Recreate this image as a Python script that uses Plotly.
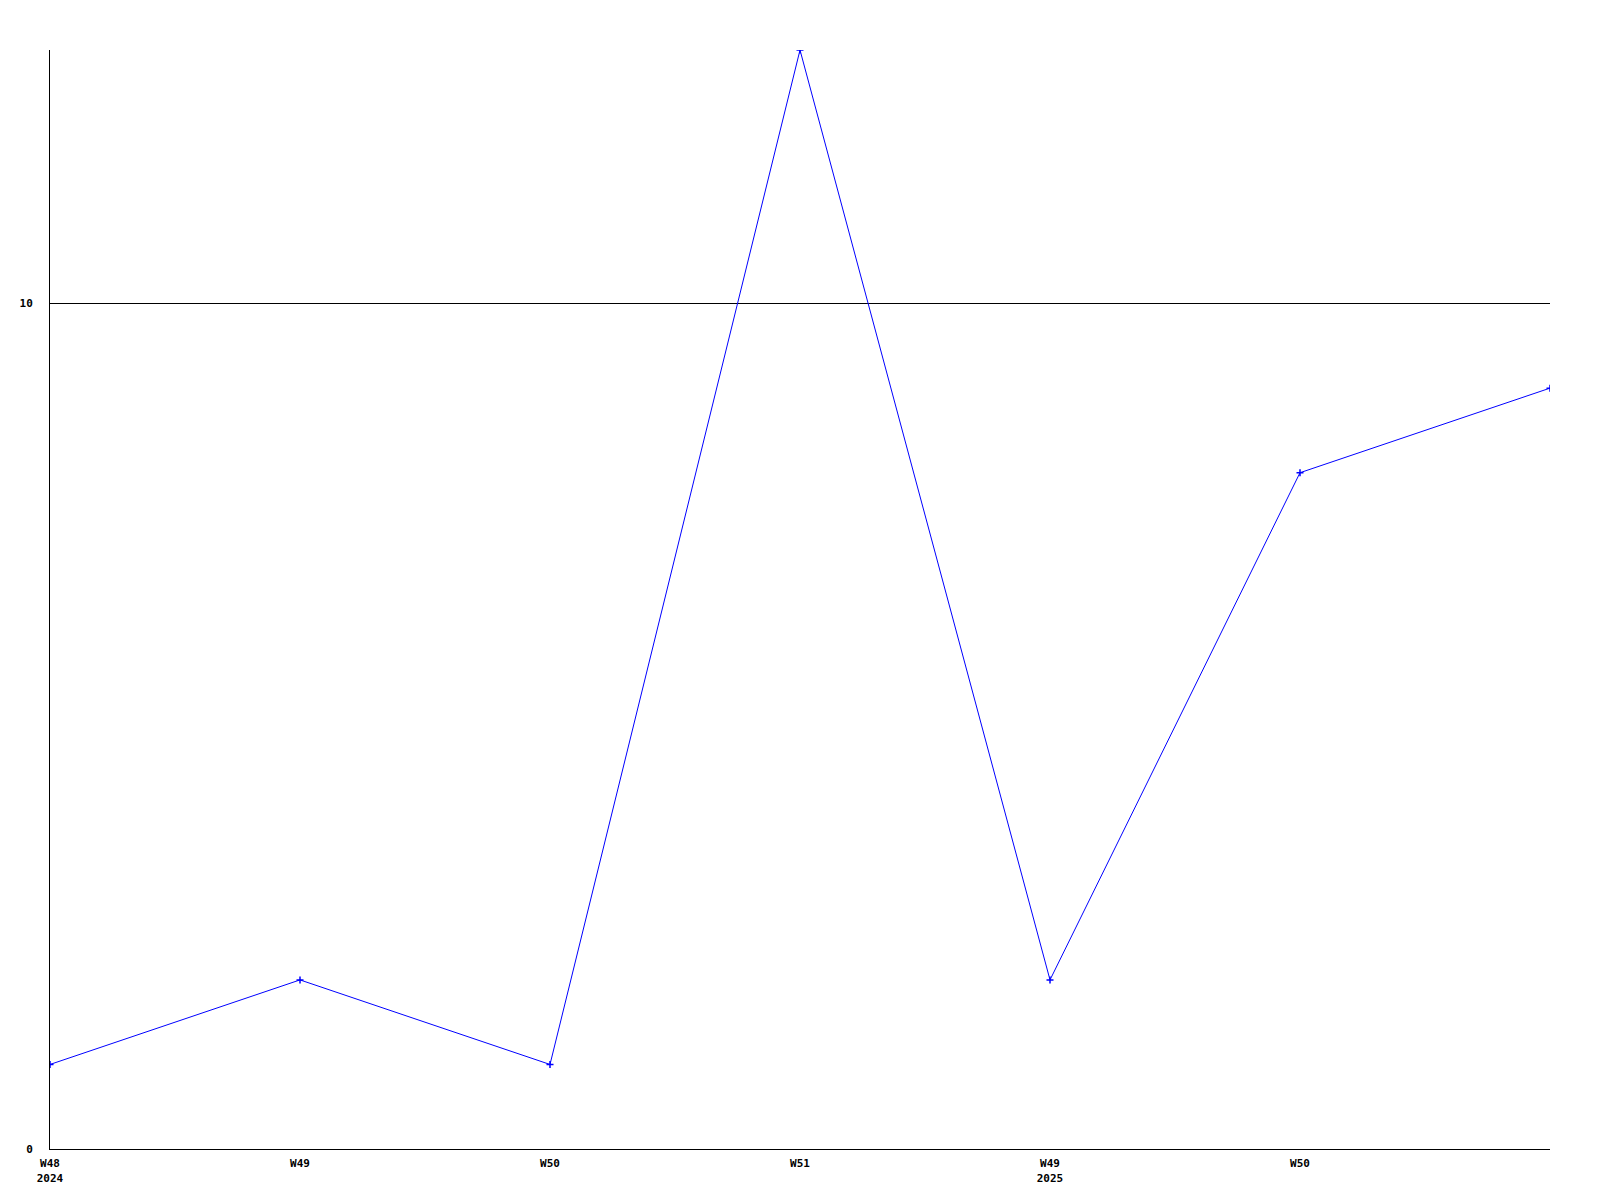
import plotly.graph_objects as go

weeks = ["W48<br>2024", "W49", "W50", "W51", "W49<br>2025", "W50", "W51"]
values = [1, 2, 1, 13, 2, 8, 9]
tick_labels = ["W48<br>2024", "W49", "W50", "W51", "W49<br>2025", "W50"]

idx = list(range(len(values)))

fig = go.Figure()
fig.add_trace(go.Scatter(
    x=idx, y=values, mode="lines+markers",
    line=dict(color="#0000ff", width=1),
    marker=dict(symbol="cross-thin", size=5, color="#0000ff",
                line=dict(color="#0000ff", width=1.5)),
    hovertext=weeks, showlegend=False,
))

font = dict(family="DejaVu Sans Mono", size=11, color="black", weight="bold")

fig.update_layout(
    width=1584, height=1184,
    margin=dict(l=42, r=42, t=42, b=43),
    paper_bgcolor="white", plot_bgcolor="white",
    font=font,
    xaxis=dict(
        range=[0, 6], tickmode="array", tickvals=list(range(len(tick_labels))),
        ticktext=tick_labels, showgrid=False, zeroline=False,
        showline=True, linecolor="black", linewidth=1, automargin=False,
        ticks="", tickfont=font, ticklabelstandoff=4,
    ),
    yaxis=dict(
        range=[0, 13], tickmode="linear", tick0=0, dtick=10,
        showgrid=True, gridcolor="black", gridwidth=1, zeroline=False,
        showline=True, linecolor="black", linewidth=1, automargin=False,
        ticks="", tickfont=font, ticklabelstandoff=14,
    ),
)

fig.write_html("out.html")
